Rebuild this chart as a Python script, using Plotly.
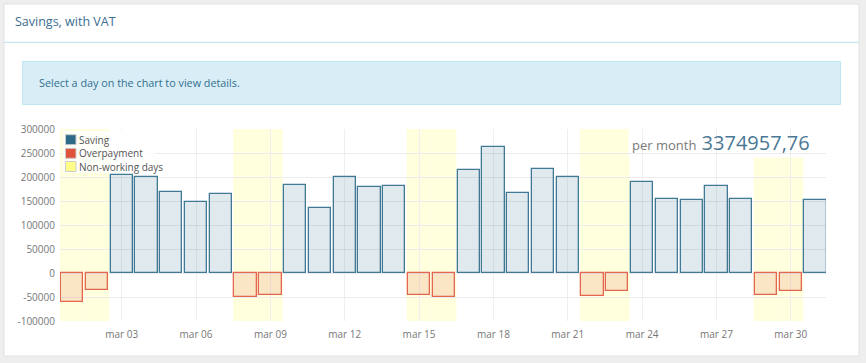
import plotly.graph_objects as go

# ---------------- data ----------------
days = list(range(1, 32))
values = [
    -61000, -35000, 204600, 201000, 169200, 148300, 165000, -49600, -45400,
    184000, 135800, 199600, 179500, 180900, -44800, -50400, 214200, 262900,
    166300, 217000, 199600, -47500, -36500, 189200, 154500, 153100, 182300,
    155200, -46200, -37100, 152500,
]
non_working_days = [1, 2, 8, 9, 15, 16, 22, 23, 29, 30]
x_tick_days = [3, 6, 9, 12, 15, 18, 21, 24, 27, 30]
x_tick_labels = ["mar 03", "mar 06", "mar 09", "mar 12", "mar 15",
                 "mar 18", "mar 21", "mar 24", "mar 27", "mar 30"]
y_ticks = [-100000, -50000, 0, 50000, 100000, 150000, 200000, 250000, 300000]
y_tick_labels = [str(v) for v in y_ticks]
series_names = ["Saving", "Overpayment", "Non-working days"]
total_text = "3374957,76"
title_text = "Savings, with VAT"
info_text = "Select a day on the chart to view details."

saving = [v if v > 0 else None for v in values]
overpay = [v if v < 0 else None for v in values]

# ---------------- layout constants ----------------
W, H = 866, 363
L, R, T, B = 60, 40, 129, 42
PW, PH = W - L - R, H - T - B
FONT = "Open Sans, Noto Sans, sans-serif"

def px(x):
    return (x - L) / PW

def py(y):
    return (H - B - y) / PH

x_range = [0.51, 31.42]
y_range = [y_ticks[0], y_ticks[-1]]

SAV_LINE = "#3f7994"
SAV_FILL = "rgba(44,106,135,0.15)"
OVR_LINE = "#e4664f"
OVR_FILL = "rgba(224,83,59,0.15)"
NWD_FILL = "#ffffdd"

fig = go.Figure()
fig.add_trace(go.Bar(x=days, y=saving, width=0.9, name=series_names[0],
                     marker=dict(color=SAV_FILL, line=dict(color=SAV_LINE, width=1.3)),
                     showlegend=False, hoverinfo="skip"))
fig.add_trace(go.Bar(x=days, y=overpay, width=0.9, name=series_names[1],
                     marker=dict(color=OVR_FILL, line=dict(color=OVR_LINE, width=1.3)),
                     showlegend=False, hoverinfo="skip"))

shapes = []
# page panel
shapes.append(dict(type="rect", xref="paper", yref="paper", layer="below",
                   x0=px(4), x1=px(859), y0=py(356), y1=py(4),
                   fillcolor="white", line=dict(color="#e2e2e2", width=1)))
# header separator
shapes.append(dict(type="line", xref="paper", yref="paper", layer="below",
                   x0=px(4), x1=px(859), y0=py(42.3), y1=py(42.3),
                   line=dict(color="#b8dfeb", width=1)))
# info box
shapes.append(dict(type="rect", xref="paper", yref="paper", layer="below",
                   x0=px(22.5), x1=px(840.5), y0=py(104.5), y1=py(61.5),
                   fillcolor="#d9edf7", line=dict(color="#bce8f1", width=1)))
# non-working day bands
for d in non_working_days:
    shapes.append(dict(type="rect", xref="x", yref="y", layer="below",
                       x0=d - 0.5, x1=d + 0.5, y0=y_range[0], y1=y_range[1],
                       fillcolor=NWD_FILL, line=dict(width=0)))
# white backing behind the monthly total
shapes.append(dict(type="rect", xref="x", yref="y", layer="below",
                   x0=23.45, x1=x_range[1], y0=240600, y1=y_range[1],
                   fillcolor="white", line=dict(width=0)))
# legend box
shapes.append(dict(type="rect", xref="paper", yref="paper", layer="above",
                   x0=px(63), x1=px(155), y0=py(173), y1=py(131),
                   fillcolor="rgba(255,255,255,0.85)", line=dict(width=0)))
legend_colors = ["#2c6a87", "#e0533b", "#ffff88"]
legend_rows = [139.7, 153.3, 166.5]
annotations = []
for name, col, yc in zip(series_names, legend_colors, legend_rows):
    shapes.append(dict(type="rect", xref="paper", yref="paper", layer="above",
                       x0=px(65.5), x1=px(76), y0=py(yc + 5), y1=py(yc - 5),
                       fillcolor=col, line=dict(color="#cccccc", width=1)))
    annotations.append(dict(xref="paper", yref="paper", x=px(76.5), y=py(yc),
                            xanchor="left", yanchor="middle", showarrow=False,
                            text=name, font=dict(family=FONT, size=10, color="#545454")))

annotations.append(dict(xref="paper", yref="paper", x=px(13), y=py(21),
                        xanchor="left", yanchor="middle", showarrow=False,
                        text=title_text, font=dict(family=FONT, size=12.5, color="#3b6e8f")))
annotations.append(dict(xref="paper", yref="paper", x=px(37), y=py(82.5),
                        xanchor="left", yanchor="middle", showarrow=False,
                        text=info_text, font=dict(family=FONT, size=10.8, color="#31708f")))
annotations.append(dict(xref="paper", yref="paper", x=px(812), y=py(142),
                        xanchor="right", yanchor="middle", showarrow=False,
                        text="<span style='font-size:13px;color:#7a7a7a'>per month</span> " + total_text,
                        font=dict(family=FONT, size=20, color="#4a7894")))

fig.update_layout(
    width=W, height=H,
    margin=dict(l=L, r=R, t=T, b=B, pad=0),
    paper_bgcolor="#eeeeee", plot_bgcolor="rgba(0,0,0,0)",
    barmode="overlay", bargap=0,
    showlegend=False,
    shapes=shapes, annotations=annotations,
    font=dict(family=FONT, size=10, color="#6f6f6f"),
    xaxis=dict(range=x_range, tickmode="array", tickvals=x_tick_days, ticktext=x_tick_labels,
               showgrid=True, gridcolor="#efefef", gridwidth=1, zeroline=False,
               showline=False, ticks="", ticklabelstandoff=6,
               tickfont=dict(family=FONT, size=10, color="#777777")),
    yaxis=dict(range=y_range, tickmode="array", tickvals=y_ticks, ticktext=y_tick_labels,
               showgrid=True, gridcolor="#ececec", gridwidth=1, zeroline=False,
               showline=False, ticks="", ticklabelstandoff=4,
               tickfont=dict(family=FONT, size=10, color="#777777")),
)

fig.write_html(
    "out.html",
    config={"displayModeBar": False},
    post_script="document.body.style.margin='0';document.body.style.overflow='hidden';"
                "document.body.style.background='#eeeeee';",
)
